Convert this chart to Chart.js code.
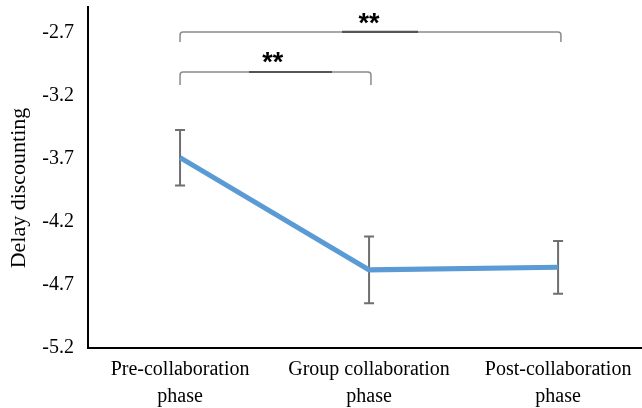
<!DOCTYPE html>
<html>
<head>
<meta charset="utf-8">
<script src="https://cdn.jsdelivr.net/npm/chart.js@4.4.1/dist/chart.umd.min.js"></script>
<style>
  html, body { margin: 0; padding: 0; background: #fff; overflow: hidden; }
  #wrap { position: relative; width: 642px; height: 408px; }
</style>
</head>
<body>
<div id="wrap"><canvas id="delayChart"></canvas></div>
<script>
// Data
const categories = [['Pre-collaboration', 'phase'], ['Group collaboration', 'phase'], ['Post-collaboration', 'phase']];
const meanValues = [-3.69, -4.58, -4.56];
const errorValues = [0.22, 0.265, 0.21];
const yTicks = [-5.2, -4.7, -4.2, -3.7, -3.2, -2.7];
const yTitle = 'Delay discounting';

// Significance brackets (data coords: x = category index, y = value)
const bracketFrom = [0, 0];
const bracketTo = [2.015, 1.01];
const bracketTop = [-2.692, -3.01];
const bracketTip = [-2.771, -3.113];
const bracketLabels = ['**', '**'];
const bracketLabelX = [1.0, 0.49];
const bracketLabelY = [-2.589, -2.898];
const bracketMarkFrom = [0.857, 0.365];
const bracketMarkTo = [1.259, 0.804];

const FONT = "'Liberation Serif', 'Times New Roman', serif";
const ERR_COLOR = '#6f6f6f';

const errorBars = {
    id: 'errorBars',
    beforeDatasetsDraw(chart) {
        const { ctx, scales: { x, y } } = chart;
        ctx.save();
        ctx.strokeStyle = ERR_COLOR;
        ctx.lineWidth = 2;
        meanValues.forEach((v, i) => {
            const px = x.getPixelForValue(i);
            const top = y.getPixelForValue(v + errorValues[i]);
            const bot = y.getPixelForValue(v - errorValues[i]);
            ctx.beginPath();
            ctx.moveTo(px, top); ctx.lineTo(px, bot);
            ctx.moveTo(px - 5, top); ctx.lineTo(px + 5, top);
            ctx.moveTo(px - 5, bot); ctx.lineTo(px + 5, bot);
            ctx.stroke();
        });
        ctx.restore();
    }
};

const brackets = {
    id: 'brackets',
    afterDraw(chart) {
        const { ctx, scales: { x, y } } = chart;
        ctx.save();
        bracketLabels.forEach((label, i) => {
            const x0 = x.getPixelForValue(bracketFrom[i]);
            const x1 = x.getPixelForValue(bracketTo[i]);
            const yt = y.getPixelForValue(bracketTop[i]);
            const yb = y.getPixelForValue(bracketTip[i]);
            ctx.strokeStyle = '#8a8a8a';
            ctx.lineWidth = 1.5;
            ctx.beginPath();
            ctx.moveTo(x0, yb);
            ctx.lineTo(x0, yt + 3);
            ctx.quadraticCurveTo(x0, yt, x0 + 3, yt);
            ctx.lineTo(x1 - 3, yt);
            ctx.quadraticCurveTo(x1, yt, x1, yt + 3);
            ctx.lineTo(x1, yb);
            ctx.stroke();

            // darker segment under the stars
            ctx.strokeStyle = '#555555';
            ctx.lineWidth = 2.2;
            ctx.beginPath();
            ctx.moveTo(x.getPixelForValue(bracketMarkFrom[i]), yt);
            ctx.lineTo(x.getPixelForValue(bracketMarkTo[i]), yt);
            ctx.stroke();

            ctx.fillStyle = '#000';
            ctx.font = "bold 27px 'Liberation Sans', Arial, sans-serif";
            ctx.textAlign = 'center';
            ctx.textBaseline = 'middle';
            ctx.fillText(label, x.getPixelForValue(bracketLabelX[i]), y.getPixelForValue(bracketLabelY[i]) + 6);
        });

        // y axis title
        ctx.fillStyle = '#000';
        ctx.font = '22px ' + FONT;
        ctx.textAlign = 'center';
        ctx.textBaseline = 'middle';
        ctx.translate(19, 188);
        ctx.rotate(-Math.PI / 2);
        ctx.fillText(yTitle, 0, 0);
        ctx.restore();
    }
};

const ctx = document.getElementById('delayChart').getContext('2d');

new Chart(ctx, {
    type: 'line',
    data: {
        datasets: [{
            label: yTitle,
            data: meanValues.map((v, i) => ({ x: i, y: v })),
            borderColor: '#5b9bd5',
            borderWidth: 5,
            pointRadius: 0,
            tension: 0,
            fill: false
        }]
    },
    options: {
        responsive: true,
        maintainAspectRatio: false,
        animation: false,
        layout: { padding: { top: 7, right: 0, left: 0, bottom: 0 } },
        plugins: {
            legend: { display: false },
            tooltip: { enabled: false }
        },
        scales: {
            x: {
                type: 'linear',
                min: -0.487,
                max: 2.444,
                afterBuildTicks: (axis) => { axis.ticks = categories.map((c, i) => ({ value: i })); },
                afterFit: (axis) => { axis.height = 60; axis.paddingLeft = 0; axis.paddingRight = 0; },
                grid: { display: false, drawTicks: false },
                border: { display: true, color: '#000', width: 2 },
                ticks: {
                    color: '#000',
                    padding: 8,
                    maxRotation: 0,
                    autoSkip: false,
                    font: { family: FONT, size: 20, lineHeight: 1.35 },
                    callback: (value) => categories[value]
                }
            },
            y: {
                min: -5.2,
                max: -2.494,
                afterBuildTicks: (axis) => { axis.ticks = yTicks.map(v => ({ value: v })); },
                afterFit: (axis) => { axis.width = 88; axis.paddingTop = 0; axis.paddingBottom = 0; },
                grid: { display: false, drawTicks: false },
                border: { display: true, color: '#000', width: 2 },
                ticks: {
                    color: '#000',
                    padding: 14,
                    font: { family: FONT, size: 20 },
                    callback: (value) => value.toFixed(1)
                }
            }
        }
    },
    plugins: [errorBars, brackets]
});
</script>
</body>
</html>
